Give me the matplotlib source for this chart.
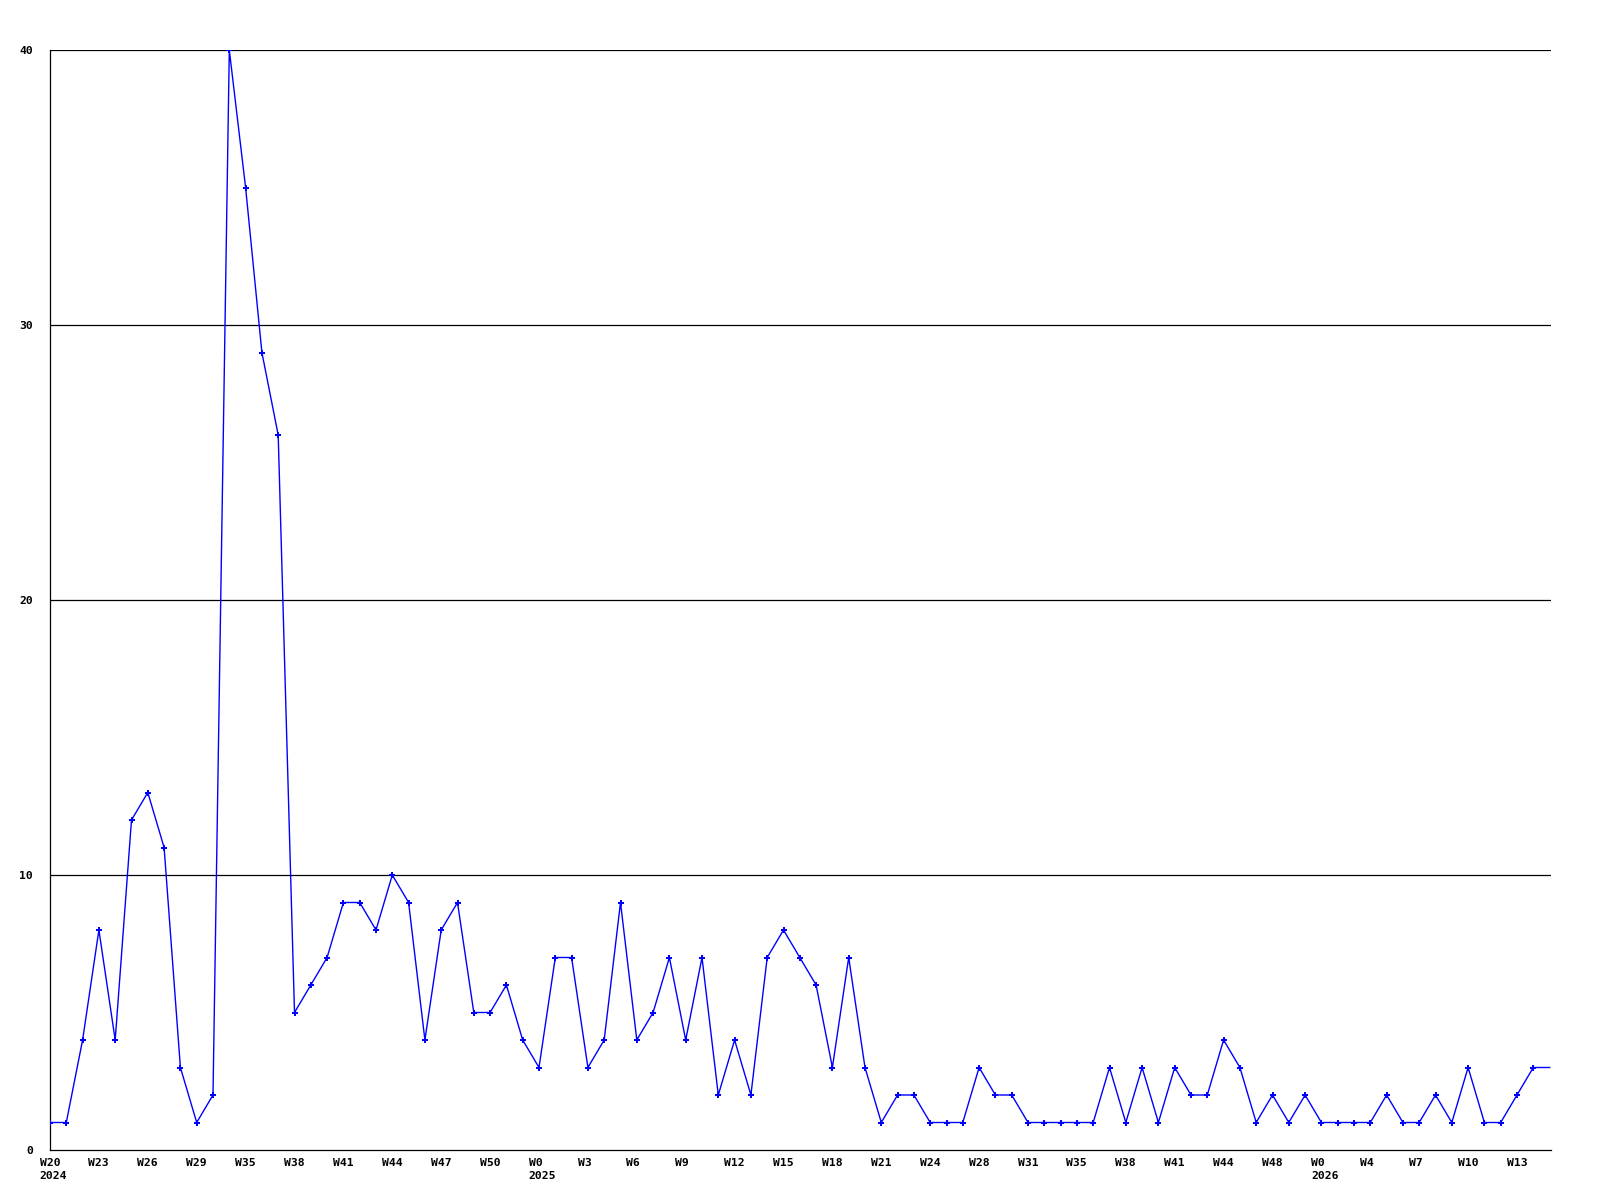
import matplotlib
matplotlib.use("Agg")
import matplotlib.pyplot as plt
from matplotlib.transforms import ScaledTranslation

# weekly counts, one value per plotted week (last value only extends the line to the edge)
values = [1, 1, 4, 8, 4, 12, 13, 11, 3, 1,
          2, 40, 35, 29, 26, 5, 6, 7, 9, 9,
          8, 10, 9, 4, 8, 9, 5, 5, 6, 4,
          3, 7, 7, 3, 4, 9, 4, 5, 7, 4,
          7, 2, 4, 2, 7, 8, 7, 6, 3, 7,
          3, 1, 2, 2, 1, 1, 1, 3, 2, 2,
          1, 1, 1, 1, 1, 3, 1, 3, 1, 3,
          2, 2, 4, 3, 1, 2, 1, 2, 1, 1,
          1, 1, 2, 1, 1, 2, 1, 3, 1, 1,
          2, 3, 3]

week_labels = ["W20", "W23", "W26", "W29", "W35", "W38", "W41", "W44", "W47", "W50",
               "W0", "W3", "W6", "W9", "W12", "W15", "W18", "W21", "W24", "W28",
               "W31", "W35", "W38", "W41", "W44", "W48", "W0", "W4", "W7", "W10", "W13"]
year_labels = {0: "2024", 10: "2025", 26: "2026"}
y_ticks = [0, 10, 20, 30, 40]

fig = plt.figure(figsize=(16, 12), dpi=100)
ax = fig.add_axes([50 / 1600, 1 - 1150 / 1200, 1501 / 1600, 1100 / 1200])

x = list(range(len(values)))
n_marked = len(values) - 1
ax.plot(x, values, color="#0000ff", linewidth=1.0, marker="P", markersize=5,
        markeredgewidth=0, markevery=list(range(n_marked)), zorder=3, clip_on=True)

ax.set_xlim(0, 1501 / 16.3)
ax.set_ylim(0, 40)

for yv in y_ticks[1:]:
    ax.axhline(yv, color="black", linewidth=0.9, zorder=1)

for side in ["top", "right"]:
    ax.spines[side].set_visible(False)
for side in ["left", "bottom"]:
    ax.spines[side].set_color("black")
    ax.spines[side].set_linewidth(0.9)

tick_pos = [3 * i for i in range(len(week_labels))]
tick_txt = [w + ("\n" + year_labels[i] if i in year_labels else "") for i, w in enumerate(week_labels)]
ax.set_xticks(tick_pos)
ax.set_xticklabels(tick_txt, fontfamily="DejaVu Sans Mono", fontweight="bold",
                   fontsize=8.2, ha="left", linespacing=1.45)
ax.tick_params(axis="x", length=0, pad=5.5)
off = ScaledTranslation(-10.4 / 100, 0, fig.dpi_scale_trans)
for lab in ax.get_xticklabels():
    lab.set_transform(lab.get_transform() + off)

ax.set_yticks(y_ticks)
ax.set_yticklabels([str(v) for v in y_ticks], fontfamily="DejaVu Sans Mono",
                   fontweight="bold", fontsize=8.2)
ax.tick_params(axis="y", length=0, pad=12.2)

fig.savefig("out.png", dpi=100, facecolor="white")
